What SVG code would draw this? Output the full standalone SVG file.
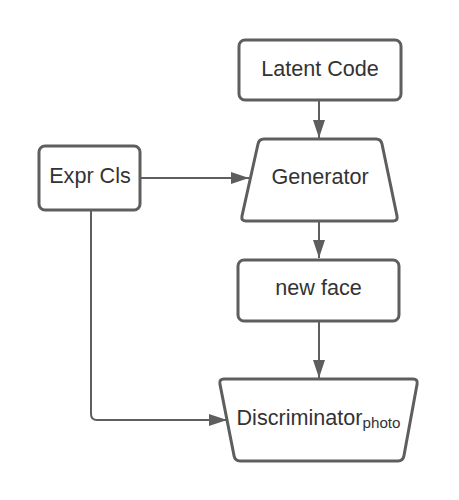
<svg xmlns="http://www.w3.org/2000/svg" width="459" height="500" viewBox="0 0 459 500">
<style>
.shape{fill:#ffffff;stroke:#5e5e5e;stroke-width:3;stroke-linejoin:round}
.lbl{font-family:"Liberation Sans",Arial,sans-serif;font-size:21.6px;fill:#333333;text-anchor:middle}
.edge{fill:none;stroke:#5e5e5e;stroke-width:2}
</style>
<defs>
<marker id="arr" markerUnits="userSpaceOnUse" markerWidth="18" markerHeight="12" refX="18" refY="6" orient="auto">
<path d="M0,0 L18,6 L0,12 Z" fill="#5e5e5e"/>
</marker>
</defs>
<rect width="459" height="500" fill="#ffffff"/>
<g id="connectors">
<path class="edge" d="M319,100 L319,138" marker-end="url(#arr)"/>
<path class="edge" d="M140,178 L249,178" marker-end="url(#arr)"/>
<path class="edge" d="M319,221 L319,258" marker-end="url(#arr)"/>
<path class="edge" d="M319,321 L319,378" marker-end="url(#arr)"/>
<path class="edge" d="M91,211 L91,414 Q91,420 97,420 L227,420" marker-end="url(#arr)"/>
</g>
<g id="latent-code">
<rect class="shape" x="239" y="40" width="162" height="60" rx="6"/>
<text class="lbl" x="320" y="76">Latent Code</text>
</g>
<g id="expr-cls">
<rect class="shape" x="39" y="146" width="101" height="64" rx="6"/>
<text class="lbl" x="90" y="183">Expr Cls</text>
</g>
<g id="generator">
<path class="shape" d="M264,139 L376,139 Q381,139 382,144 L397,216 Q398,221 393,221 L246,221 Q241,221 242,216 L258,144 Q259,139 264,139 Z"/>
<text class="lbl" x="320" y="184">Generator</text>
</g>
<g id="new-face">
<rect class="shape" x="238" y="260" width="161" height="61" rx="6"/>
<text class="lbl" x="318.5" y="295">new face</text>
</g>
<g id="discriminator">
<path class="shape" d="M224,379 L413,379 Q418,379 417.1,383.9 L403.9,456.1 Q403,461 398,461 L240,461 Q235,461 234.1,456.1 L219.9,383.9 Q219,379 224,379 Z"/>
<text class="lbl" x="318.5" y="425">Discriminator<tspan font-size="15.2" dy="3">photo</tspan></text>
</g>
</svg>
